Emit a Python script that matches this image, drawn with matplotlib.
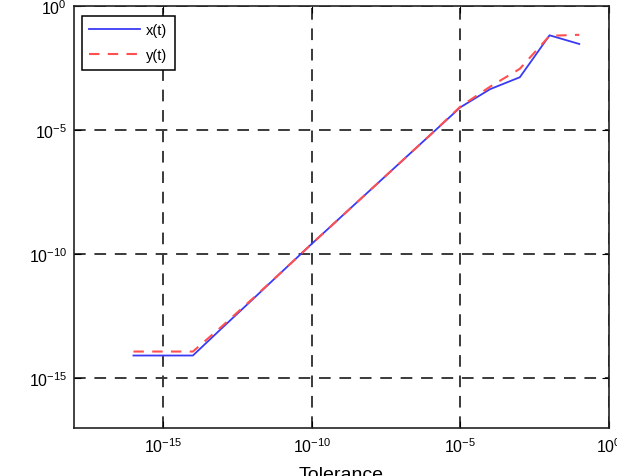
import matplotlib
matplotlib.use("Agg")
import matplotlib.pyplot as plt
import numpy as np

plt.rcParams['font.family'] = ['Liberation Sans', 'DejaVu Sans']
plt.rcParams['mathtext.fontset'] = 'custom'
plt.rcParams['mathtext.rm'] = 'Liberation Sans'
plt.rcParams['mathtext.it'] = 'Liberation Sans'
plt.rcParams['mathtext.bf'] = 'Liberation Sans'

# Tolerance values (decades)
tolerance_exp = [-16, -15, -14, -13, -12, -11, -10, -9, -8, -7, -6, -5, -4, -3, -2, -1]
# error exponents
x_err_exp = [-14.08, -14.08, -14.08, -12.95, -11.83, -10.70, -9.58, -8.48,
             -7.38, -6.28, -5.18, -4.08, -3.35, -2.87, -1.18, -1.53]
y_err_exp = [-13.92, -13.92, -13.92, -12.88, -11.80, -10.70, -9.58, -8.48,
             -7.38, -6.28, -5.18, -4.05, -3.25, -2.53, -1.20, -1.16]
tick_labels = [r'$10^{-15}$', r'$10^{-10}$', r'$10^{-5}$', r'$10^{0}$']

tol = 10.0 ** np.array(tolerance_exp)
xe = 10.0 ** np.array(x_err_exp)
ye = 10.0 ** np.array(y_err_exp)

fig = plt.figure(figsize=(6.17, 4.77), dpi=100)
ax = fig.add_axes([74/617, 1-429/477, (609-74)/617, (429-7)/477])

ax.loglog(tol, xe, color='#3a3af5', lw=1.3, label='x(t)')
ax.loglog(tol, ye, color='#ff5050', lw=1.5, ls=(0, (5, 4)), label='y(t)')

ax.set_xlim(1e-18, 1e0)
ax.set_ylim(1e-17, 1e0)
ax.set_xticks([1e-15, 1e-10, 1e-5, 1e0])
ax.set_yticks([1e-15, 1e-10, 1e-5, 1e0])
ax.set_xticklabels(tick_labels)
ax.set_yticklabels(tick_labels)
ax.minorticks_off()
ax.tick_params(which='major', direction='in', length=5, width=0.8,
               top=True, right=True, labelsize=11.5, colors='black')
ax.tick_params(axis='x', pad=6)
ax.tick_params(axis='y', pad=5)
ax.grid(True, which='major', color='#3a3a3a', ls=(0, (6, 4.5)), lw=1.4)
for s in ax.spines.values():
    s.set_linewidth(1.2)
    s.set_color('#222222')

ax.set_xlabel('Tolerance', fontsize=14, labelpad=8)

leg = ax.legend(loc='upper left', fontsize=10.5, fancybox=False, framealpha=1,
                edgecolor='black', handlelength=3.5, borderpad=0.5,
                labelspacing=0.75, handletextpad=0.4,
                bbox_to_anchor=(8/535, 1-10/422), borderaxespad=0)
leg.get_frame().set_linewidth(1.1)

fig.savefig('out.png', dpi=100)
